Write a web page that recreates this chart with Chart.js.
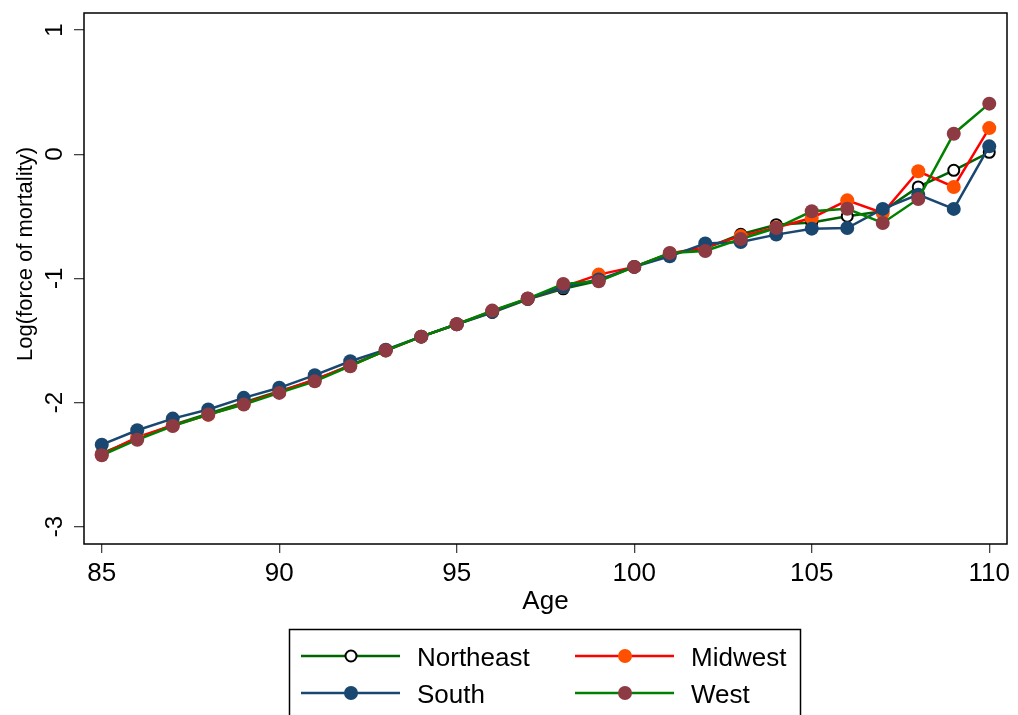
<!DOCTYPE html>
<html lang="en">
<head>
    <meta charset="UTF-8">
    <title>Log(force of mortality) by Age</title>
    <script src="https://cdn.jsdelivr.net/npm/chart.js"></script>
    <style>
        body {
            margin: 0;
            background-color: white;
        }
        canvas {
            display: block;
        }
    </style>
</head>
<body>
    <canvas id="myChart" width="1018" height="715"></canvas>

    <script>
        // ages on the x axis
        const ages = [85, 86, 87, 88, 89, 90, 91, 92, 93, 94, 95, 96, 97, 98, 99, 100, 101, 102, 103, 104, 105, 106, 107, 108, 109, 110];

        // log force of mortality
        const northeast = [-2.41, -2.29, -2.18, -2.09, -2.00, -1.91, -1.82, -1.70, -1.585, -1.47, -1.37, -1.275, -1.17, -1.085, -1.02, -0.908, -0.80, -0.76, -0.645, -0.568, -0.55, -0.50, -0.46, -0.264, -0.13, 0.015];
        const midwest   = [-2.42, -2.28, -2.185, -2.10, -2.01, -1.915, -1.815, -1.705, -1.58, -1.47, -1.37, -1.265, -1.165, -1.07, -0.97, -0.908, -0.80, -0.75, -0.66, -0.59, -0.514, -0.372, -0.474, -0.138, -0.264, 0.21];
        const south     = [-2.34, -2.224, -2.13, -2.057, -1.963, -1.882, -1.78, -1.668, -1.575, -1.47, -1.37, -1.27, -1.165, -1.07, -1.01, -0.908, -0.823, -0.72, -0.707, -0.648, -0.60, -0.595, -0.441, -0.326, -0.441, 0.063];
        const west      = [-2.425, -2.30, -2.19, -2.097, -2.017, -1.923, -1.83, -1.708, -1.58, -1.47, -1.37, -1.26, -1.163, -1.045, -1.024, -0.908, -0.796, -0.78, -0.683, -0.595, -0.46, -0.44, -0.554, -0.361, 0.165, 0.407];

        const xTicks = [85, 90, 95, 100, 105, 110];
        const yTicks = [-3, -2, -1, 0, 1];

        const FONT = '"Liberation Sans", Arial, sans-serif';

        function toPoints(values) {
            return ages.map((a, i) => ({ x: a, y: values[i] }));
        }

        // frame, rotated y labels, axis titles and the boxed legend
        const framePlugin = {
            id: 'framePlugin',
            afterDraw(chart) {
                const ctx = chart.ctx;
                const area = chart.chartArea;
                const yScale = chart.scales.y;

                ctx.save();
                ctx.strokeStyle = 'black';
                ctx.lineWidth = 1.5;
                ctx.strokeRect(area.left, area.top, area.right - area.left, area.bottom - area.top);

                ctx.fillStyle = 'black';

                // y tick labels, rotated like the original
                ctx.font = '24px ' + FONT;
                ctx.textAlign = 'center';
                ctx.textBaseline = 'alphabetic';
                yTicks.forEach(v => {
                    const py = yScale.getPixelForValue(v);
                    ctx.save();
                    ctx.translate(62, py);
                    ctx.rotate(-Math.PI / 2);
                    ctx.fillText(String(v), 0, 0);
                    ctx.restore();
                });

                // y axis title
                ctx.font = '22px ' + FONT;
                ctx.save();
                ctx.translate(32, 254);
                ctx.rotate(-Math.PI / 2);
                ctx.fillText('Log(force of mortality)', 0, 0);
                ctx.restore();

                // x axis title
                ctx.font = '26px ' + FONT;
                ctx.fillText('Age', (area.left + area.right) / 2, 609);

                // legend box
                ctx.lineWidth = 1.5;
                ctx.strokeRect(289.5, 629.5, 511, 100);

                const slots = [
                    { x0: 301, y: 656 },
                    { x0: 575, y: 656 },
                    { x0: 301, y: 693 },
                    { x0: 575, y: 693 }
                ];
                chart.data.datasets.forEach((ds, i) => {
                    const s = slots[i];
                    ctx.strokeStyle = ds.borderColor;
                    ctx.lineWidth = 2.5;
                    ctx.beginPath();
                    ctx.moveTo(s.x0, s.y);
                    ctx.lineTo(s.x0 + 99, s.y);
                    ctx.stroke();

                    ctx.beginPath();
                    ctx.arc(s.x0 + 50, s.y, ds.legendRadius, 0, Math.PI * 2);
                    ctx.fillStyle = ds.pointBackgroundColor;
                    ctx.fill();
                    if (ds.pointBorderWidth > 0) {
                        ctx.lineWidth = ds.pointBorderWidth;
                        ctx.strokeStyle = ds.pointBorderColor;
                        ctx.stroke();
                    }

                    ctx.fillStyle = 'black';
                    ctx.font = '26px ' + FONT;
                    ctx.textAlign = 'left';
                    ctx.fillText(ds.label, s.x0 + 116, s.y + 9.5);
                });
                ctx.restore();
            }
        };

        const chartData = {
            datasets: [
                {
                    label: 'Northeast',
                    data: toPoints(northeast),
                    borderColor: '#006400',
                    borderWidth: 2.5,
                    pointRadius: 5.5,
                    pointBackgroundColor: 'white',
                    pointBorderColor: 'black',
                    pointBorderWidth: 2,
                    legendRadius: 5.5,
                    order: 3
                },
                {
                    label: 'Midwest',
                    data: toPoints(midwest),
                    borderColor: '#ff0000',
                    borderWidth: 2.5,
                    pointRadius: 7,
                    pointBackgroundColor: '#ff5000',
                    pointBorderColor: '#ff5000',
                    pointBorderWidth: 0,
                    legendRadius: 7,
                    order: 2
                },
                {
                    label: 'South',
                    data: toPoints(south),
                    borderColor: '#1a476f',
                    borderWidth: 2.5,
                    pointRadius: 7,
                    pointBackgroundColor: '#1a476f',
                    pointBorderColor: '#1a476f',
                    pointBorderWidth: 0,
                    legendRadius: 7,
                    order: 1
                },
                {
                    label: 'West',
                    data: toPoints(west),
                    borderColor: '#008000',
                    borderWidth: 2.5,
                    pointRadius: 7,
                    pointBackgroundColor: '#8e3a42',
                    pointBorderColor: '#8e3a42',
                    pointBorderWidth: 0,
                    legendRadius: 7,
                    order: 0
                }
            ]
        };

        const chartConfig = {
            type: 'line',
            data: chartData,
            plugins: [framePlugin],
            options: {
                responsive: false,
                animation: false,
                layout: {
                    padding: { left: 0, right: 11, top: 13, bottom: 91 }
                },
                elements: {
                    line: { tension: 0 }
                },
                scales: {
                    x: {
                        type: 'linear',
                        min: 84.5,
                        max: 110.5,
                        afterBuildTicks: scale => {
                            scale.ticks = xTicks.map(v => ({ value: v }));
                        },
                        afterFit: scale => {
                            scale.height = 80;
                        },
                        border: { display: false },
                        grid: {
                            drawOnChartArea: false,
                            drawTicks: true,
                            tickLength: 9,
                            color: '#444',
                            lineWidth: 1.3
                        },
                        ticks: {
                            color: 'black',
                            padding: 5,
                            maxRotation: 0,
                            font: { family: FONT, size: 26 }
                        }
                    },
                    y: {
                        min: -3.14,
                        max: 1.137,
                        afterBuildTicks: scale => {
                            scale.ticks = yTicks.map(v => ({ value: v }));
                        },
                        afterFit: scale => {
                            scale.width = 84;
                        },
                        border: { display: false },
                        grid: {
                            drawOnChartArea: false,
                            drawTicks: true,
                            tickLength: 10,
                            color: '#444',
                            lineWidth: 1.3
                        },
                        ticks: {
                            display: false
                        }
                    }
                },
                plugins: {
                    legend: { display: false },
                    tooltip: { enabled: false }
                }
            }
        };

        const myChart = new Chart(document.getElementById('myChart'), chartConfig);
    </script>
</body>
</html>
